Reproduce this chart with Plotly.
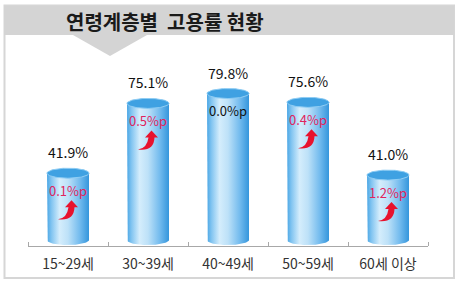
import numpy as np
import plotly.graph_objects as go

# ---- data ----
categories = ["15~29세", "30~39세", "40~49세", "50~59세", "60세 이상"]
rates = [41.9, 75.1, 79.8, 75.6, 41.0]
change_labels = ["0.1%p", "0.5%p", "0.0%p", "0.4%p", "1.2%p"]
change_up = [True, True, False, True, True]
title_text = "연령계층별  고용률 현황"

# ---- style ----
W, H = 459, 286
ML, MR, MT, MB = 28, 31, 40, 40
Y_RANGE = [7.26, 105.26]
BASE = 10.1          # cylinder bottom (data units)
HW = 0.2625          # cylinder half width (category units)
RY = 2.38            # ellipse half height (data units)
FONT = "Noto Sans CJK KR"

body_scale = [
    [0.0, "#4aa6e5"], [0.1, "#7fc3f0"], [0.3, "#d4edfc"], [0.5, "#bde1f8"],
    [0.78, "#73bbee"], [1.0, "#3596dc"],
]

fig = go.Figure()
t = np.linspace(0, np.pi, 48)
s = np.linspace(0, 2 * np.pi, 96)
for i, v in enumerate(rates):
    xs = [i - HW] + list(i - HW * np.cos(t)) + [i + HW] + list(i + HW * np.cos(t))
    ys = [v] + list(BASE - RY * np.sin(t)) + [v] + list(v + RY * np.sin(t))
    fig.add_trace(go.Scatter(
        x=xs, y=ys, mode="lines", fill="toself",
        fillgradient=dict(type="horizontal", colorscale=body_scale),
        line=dict(width=0, color="rgba(0,0,0,0)"),
        hoverinfo="skip", showlegend=False))
    fig.add_trace(go.Scatter(
        x=list(i + HW * np.cos(s)), y=list(v + RY * np.sin(s)),
        mode="lines", fill="toself", fillcolor="#3fa1e2",
        line=dict(width=1, color="#8fcdf4"),
        hoverinfo="skip", showlegend=False))

annotations = []
shapes = []
arrow_path = "M -10 -46 Q -1 -45 0.5 -34 L -3 -34 L 3.5 -27 L 10 -34 L 6.5 -34 Q 6 -48 -10 -46 Z"
for i, v in enumerate(rates):
    annotations.append(dict(
        x=i, y=v, xref="x", yref="y", yshift=21, showarrow=False,
        text=f"{v:.1f}%", font=dict(family=FONT, size=14, color="#111111")))
    annotations.append(dict(
        x=i, y=v, xref="x", yref="y", yshift=-17, showarrow=False,
        text=change_labels[i],
        font=dict(family=FONT, size=13, color="#e0245e" if change_up[i] else "#111111")))
    if change_up[i]:
        shapes.append(dict(
            type="path", xref="x", yref="y", xsizemode="pixel", ysizemode="pixel",
            xanchor=i, yanchor=v, path=arrow_path,
            fillcolor="#e8122d", line=dict(width=0)))

def px_x(p):
    return (p - ML) / (W - ML - MR)

def px_y(p):
    return (H - MB - p) / (H - MT - MB)

# frame
shapes.append(dict(type="rect", xref="paper", yref="paper",
                   x0=px_x(4.5), x1=px_x(454), y0=px_y(278), y1=px_y(5.5),
                   line=dict(color="#d6d6d6", width=2), fillcolor="rgba(0,0,0,0)",
                   layer="below"))
# banner
shapes.append(dict(type="rect", xref="paper", yref="paper",
                   x0=px_x(4), x1=px_x(454), y0=px_y(35), y1=px_y(6),
                   line=dict(width=0), fillcolor="#d4d4d4", layer="below"))
# pointer triangle
shapes.append(dict(type="path", xref="paper", yref="paper",
                   path=f"M {px_x(73)} {px_y(35)} L {px_x(147)} {px_y(35)} L {px_x(110)} {px_y(56)} Z",
                   line=dict(width=0), fillcolor="#d4d4d4", layer="below"))

annotations.append(dict(
    x=px_x(64), y=px_y(21), xref="paper", yref="paper", xanchor="left", yanchor="middle",
    showarrow=False, text=f"<b>{title_text}</b>",
    font=dict(family=FONT, size=20, color="#1a1a1a")))

fig.update_layout(
    width=W, height=H,
    margin=dict(l=ML, r=MR, t=MT, b=MB),
    paper_bgcolor="white", plot_bgcolor="rgba(0,0,0,0)",
    showlegend=False,
    annotations=annotations, shapes=shapes,
    xaxis=dict(range=[-0.5, 4.5], tickmode="array", tickvals=list(range(len(categories))),
               ticktext=categories, ticks="", showgrid=False, zeroline=False,
               showline=True, linecolor="#a8a8a8", linewidth=1,
               tickfont=dict(family=FONT, size=14, color="#333333"),
               ticklabelstandoff=5,
               minor=dict(tickmode="array", tickvals=[k - 0.5 for k in range(len(categories) + 1)],
                          ticks="inside", ticklen=4, tickcolor="#a8a8a8", showgrid=False),
               fixedrange=True),
    yaxis=dict(range=Y_RANGE, visible=False, fixedrange=True),
)

fig.write_html("out.html")
